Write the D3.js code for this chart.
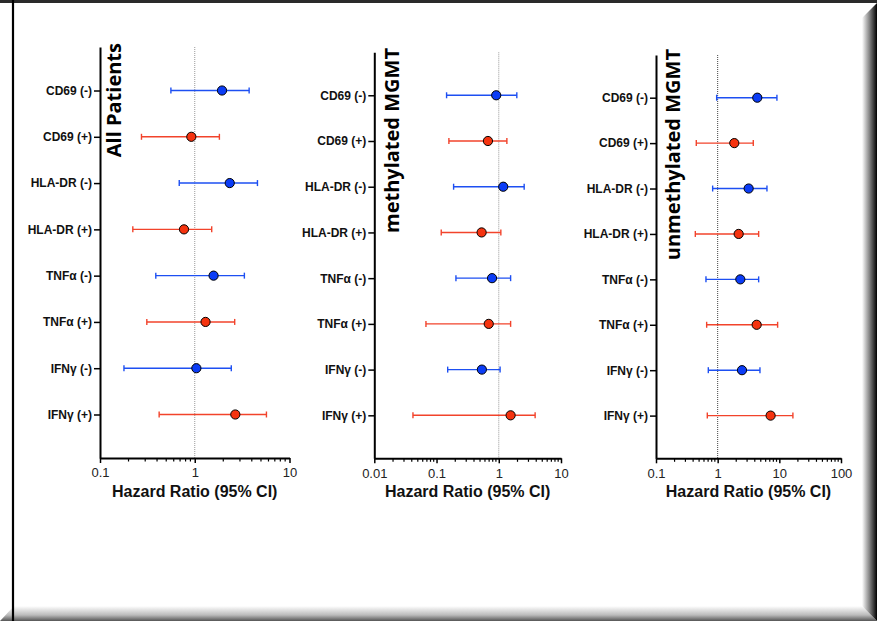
<!DOCTYPE html>
<html>
<head>
<meta charset="utf-8">
<script src="https://cdn.jsdelivr.net/npm/d3@7"></script>
<style>
    body { margin: 0; background: #fff; }
    svg { display: block; }
</style>
</head>
<body>
<div id="forest"></div>
<script>

// row labels, top to bottom
let categories = ["CD69 (-)", "CD69 (+)", "HLA-DR (-)", "HLA-DR (+)",
    "TNFα (-)", "TNFα (+)", "IFNγ (-)", "IFNγ (+)"];

// All Patients
let allHR = [1.94, 0.92, 2.34, 0.77, 1.58, 1.30, 1.04, 2.68];
let allLo = [0.56, 0.274, 0.686, 0.222, 0.388, 0.312, 0.179, 0.421];
let allHi = [3.75, 1.82, 4.59, 1.51, 3.34, 2.64, 2.43, 5.71];

// methylated MGMT
let methHR = [0.91, 0.67, 1.18, 0.53, 0.78, 0.69, 0.535, 1.55];
let methLo = [0.145, 0.158, 0.188, 0.119, 0.205, 0.0676, 0.151, 0.0418];
let methHi = [1.95, 1.35, 2.56, 1.08, 1.55, 1.55, 1.05, 3.84];

// unmethylated MGMT
let unmethHR = [4.39, 1.86, 3.18, 2.19, 2.33, 4.29, 2.48, 7.22];
let unmethLo = [0.963, 0.45, 0.829, 0.434, 0.646, 0.663, 0.705, 0.679];
let unmethHi = [9.14, 3.78, 6.30, 4.62, 4.62, 9.38, 4.85, 16.6];

let xTicksAll = [0.1, 1, 10];
let xTicksMeth = [0.01, 0.1, 1, 10];
let xTicksUnmeth = [0.1, 1, 10, 100];

let blueFill = "#0b3cf6",
    redFill = "#f5330f",
    blueBar = "#1d4ff2",
    redBar = "#f2432b";

let width = 877,
    height = 621;

let svg = d3.select("#forest").append("svg")
    .attr("width", width)
    .attr("height", height);

svg.append("rect")
    .attr("width", width)
    .attr("height", height)
    .attr("fill", "#fff");

// ---------- frame / slide shadow ----------
let defs = svg.append("defs");

let gRight = defs.append("linearGradient")
    .attr("id", "shadeRight")
    .attr("x1", 0).attr("x2", 1).attr("y1", 0).attr("y2", 0);
gRight.append("stop").attr("offset", "0%").attr("stop-color", "#fff");
gRight.append("stop").attr("offset", "55%").attr("stop-color", "#777");
gRight.append("stop").attr("offset", "100%").attr("stop-color", "#000");

let gBottom = defs.append("linearGradient")
    .attr("id", "shadeBottom")
    .attr("x1", 0).attr("x2", 0).attr("y1", 0).attr("y2", 1);
gBottom.append("stop").attr("offset", "0%").attr("stop-color", "#fff");
gBottom.append("stop").attr("offset", "60%").attr("stop-color", "#bbb");
gBottom.append("stop").attr("offset", "100%").attr("stop-color", "#555");

svg.append("polygon")
    .attr("points", [[14, 606], [862, 606], [877, 621], [0, 621]].join(" "))
    .attr("fill", "url(#shadeBottom)");

svg.append("polygon")
    .attr("points", [[862, 18], [877, 3], [877, 621], [862, 606]].join(" "))
    .attr("fill", "url(#shadeRight)");

svg.append("rect")
    .attr("x", 0).attr("y", 0)
    .attr("width", width).attr("height", 3)
    .attr("fill", "#2a2a2a");

svg.append("line")
    .attr("x1", 13).attr("x2", 13)
    .attr("y1", 0).attr("y2", height)
    .attr("stroke", "#000")
    .attr("stroke-width", 2.2);

// ---------- panels ----------
let panels = [
    {title: "All Patients", hr: allHR, lo: allLo, hi: allHi, ticks: xTicksAll,
        x0: 100, x1: 289.5, yTop: 47, yBot: 458, titleX: 121, titleY: 43, refColor: "#999"},
    {title: "methylated MGMT", hr: methHR, lo: methLo, hi: methHi, ticks: xTicksMeth,
        x0: 374.3, x1: 561, yTop: 52.3, yBot: 458.3, titleX: 399, titleY: 48, refColor: "#999"},
    {title: "unmethylated MGMT", hr: unmethHR, lo: unmethLo, hi: unmethHi, ticks: xTicksUnmeth,
        x0: 656, x1: 841, yTop: 55, yBot: 458.3, titleX: 680, titleY: 49, refColor: "#444"}
];

panels.forEach(function(p) {
    drawPanel(p);
});

function drawPanel(p) {

    let domain = [p.ticks[0], p.ticks[p.ticks.length - 1]];

    let x = d3.scaleLog()
        .domain(domain)
        .range([p.x0, p.x1]);

    let y = d3.scalePoint()
        .domain(categories)
        .range([p.yTop, p.yBot])
        .padding(0.94);

    let g = svg.append("g");

    // minor ticks for every 2..9 inside each decade
    let minor = [];
    for (let i = 0; i < p.ticks.length - 1; i++) {
        for (let k = 2; k <= 9; k++) {
            minor.push(p.ticks[i] * k);
        }
    }

    // dotted reference line at HR = 1
    g.append("line")
        .attr("x1", x(1)).attr("x2", x(1))
        .attr("y1", p.yTop).attr("y2", p.yBot)
        .attr("stroke", p.refColor)
        .attr("stroke-width", 1)
        .attr("stroke-dasharray", "1,1");

    // x axis, major ticks
    let xAxis = g.append("g")
        .attr("transform", "translate(0," + p.yBot + ")")
        .call(d3.axisBottom(x)
            .tickValues(p.ticks)
            .tickFormat(function(d) { return String(d); })
            .tickSize(5)
            .tickSizeOuter(0)
            .tickPadding(5));

    xAxis.select(".domain")
        .attr("stroke", "#000")
        .attr("stroke-width", 2);
    xAxis.selectAll(".tick line")
        .attr("stroke", "#000")
        .attr("stroke-width", 1.5);
    xAxis.selectAll(".tick text")
        .attr("font-family", "'Liberation Sans', Arial, sans-serif")
        .attr("font-size", 13)
        .attr("fill", "#222");

    // minor ticks
    g.append("g")
        .selectAll("line")
        .data(minor)
        .enter().append("line")
        .attr("x1", function(d) { return x(d); })
        .attr("x2", function(d) { return x(d); })
        .attr("y1", p.yBot)
        .attr("y2", p.yBot + 3.5)
        .attr("stroke", "#000")
        .attr("stroke-width", 1.2);

    // y axis with row labels
    let yAxis = g.append("g")
        .attr("transform", "translate(" + p.x0 + ",0)")
        .call(d3.axisLeft(y)
            .tickSize(6)
            .tickSizeOuter(0)
            .tickPadding(2));

    yAxis.select(".domain")
        .attr("stroke", "#000")
        .attr("stroke-width", 2);
    yAxis.selectAll(".tick line")
        .attr("stroke", "#000")
        .attr("stroke-width", 1.5);
    yAxis.selectAll(".tick text")
        .attr("font-family", "'Liberation Sans', Arial, sans-serif")
        .attr("font-weight", "bold")
        .attr("font-size", 12)
        .attr("fill", "#111");

    // axis title
    g.append("text")
        .attr("x", (p.x0 + p.x1) / 2)
        .attr("y", p.yBot + 39)
        .attr("text-anchor", "middle")
        .attr("font-family", "'Liberation Sans', Arial, sans-serif")
        .attr("font-weight", "bold")
        .attr("font-size", 16)
        .attr("fill", "#111")
        .text("Hazard Ratio (95% CI)");

    // panel title, rotated
    g.append("text")
        .attr("transform", "translate(" + p.titleX + "," + p.titleY + ") rotate(-90)")
        .attr("text-anchor", "end")
        .attr("font-family", "'Open Sans', sans-serif")
        .attr("font-weight", "bold")
        .attr("font-size", 20)
        .attr("fill", "#000")
        .text(p.title);

    let rows = categories.map(function(c, i) {
        return {label: c, hr: p.hr[i], lo: p.lo[i], hi: p.hi[i], neg: c.indexOf("(-)") >= 0};
    });

    // error bars
    let bars = g.append("g")
        .selectAll("g")
        .data(rows)
        .enter().append("g")
        .attr("stroke", function(d) { return d.neg ? blueBar : redBar; })
        .attr("stroke-width", 1.4);

    bars.append("line")
        .attr("x1", function(d) { return x(d.lo); })
        .attr("x2", function(d) { return x(d.hi); })
        .attr("y1", function(d) { return y(d.label); })
        .attr("y2", function(d) { return y(d.label); });

    bars.append("line")
        .attr("x1", function(d) { return x(d.lo); })
        .attr("x2", function(d) { return x(d.lo); })
        .attr("y1", function(d) { return y(d.label) - 3; })
        .attr("y2", function(d) { return y(d.label) + 3; });

    bars.append("line")
        .attr("x1", function(d) { return x(d.hi); })
        .attr("x2", function(d) { return x(d.hi); })
        .attr("y1", function(d) { return y(d.label) - 3; })
        .attr("y2", function(d) { return y(d.label) + 3; });

    // hazard ratio points
    g.append("g")
        .selectAll("circle")
        .data(rows)
        .enter().append("circle")
        .attr("cx", function(d) { return x(d.hr); })
        .attr("cy", function(d) { return y(d.label); })
        .attr("r", 4.6)
        .attr("fill", function(d) { return d.neg ? blueFill : redFill; })
        .attr("stroke", "#000")
        .attr("stroke-width", 1);
}

</script>
</body>
</html>
